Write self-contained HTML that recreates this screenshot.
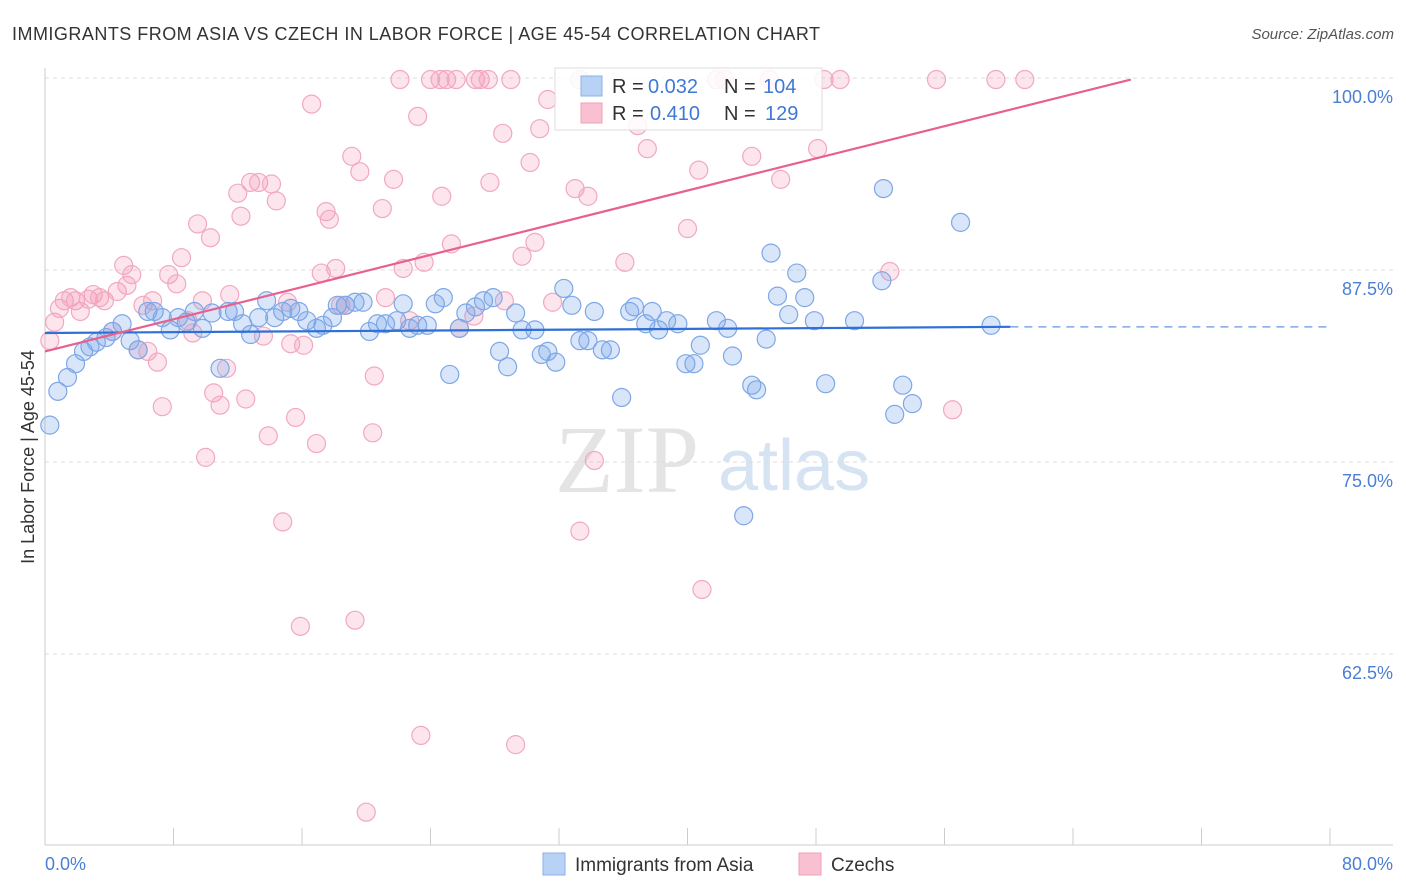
<!DOCTYPE html>
<html><head><meta charset="utf-8"><style>
body{margin:0;background:#fff;font-family:"Liberation Sans",sans-serif;}
#wrap{position:relative;width:1406px;height:892px;overflow:hidden;}
</style></head><body>
<div id="wrap">
<svg id="svg" width="1406" height="892" xmlns="http://www.w3.org/2000/svg">
<text x="12" y="40" font-size="18" fill="#333" textLength="808" lengthAdjust="spacing">IMMIGRANTS FROM ASIA VS CZECH IN LABOR FORCE | AGE 45-54 CORRELATION CHART</text>
<text x="1394" y="39" font-size="15" fill="#555" font-style="italic" text-anchor="end">Source: ZipAtlas.com</text>
<g><text x="555" y="492" font-size="96" font-family="Liberation Serif,serif" fill="#e4e4e4">ZIP</text><text x="718" y="490" font-size="72" fill="#d5e3f3">atlas</text></g>
<g id="grid"></g>
<g id="axes"></g>
<g id="pts"></g>
<g id="trend"></g>
<text transform="translate(34,457) rotate(-90)" font-size="18" fill="#333" text-anchor="middle">In Labor Force | Age 45-54</text>
<g>
<rect x="555" y="68" width="267" height="62" fill="#fff" fill-opacity="0.85" stroke="#ddd"/>
<rect x="581" y="76" width="21" height="20" fill="#b8d2f5" stroke="#8ab0e8"/>
<rect x="581" y="103" width="21" height="20" fill="#f8c0d0" stroke="#f0a0b8"/>
<text y="93" font-size="20"><tspan x="612" fill="#333">R = </tspan><tspan x="648" fill="#3f78d6">0.032</tspan><tspan x="724" fill="#333">N = </tspan><tspan x="763" fill="#3f78d6">104</tspan></text>
<text y="120" font-size="20"><tspan x="612" fill="#333">R = </tspan><tspan x="650" fill="#3f78d6">0.410</tspan><tspan x="724" fill="#333">N = </tspan><tspan x="765" fill="#3f78d6">129</tspan></text>
</g>
<g>
<rect x="543" y="853" width="22" height="22" fill="#b8d2f5" stroke="#8ab0e8"/>
<text x="575" y="871" font-size="19" fill="#333">Immigrants from Asia</text>
<rect x="799" y="853" width="22" height="22" fill="#f8c0d0" stroke="#f0a0b8"/>
<text x="831" y="871" font-size="19" fill="#333">Czechs</text>
</g>
</svg>
</div>
<script>
const yTicks=[100,87.5,75,62.5];
const yTickLabels=["100.0%","87.5%","75.0%","62.5%"];
const xTicks=[0,8,16,24,32,40,48,56,64,72,80];
const asiaX=[0.3,0.8,1.4,1.9,2.4,2.8,3.2,3.8,4.2,4.8,5.3,5.8,6.4,6.8,7.3,7.8,8.3,8.8,9.3,9.8,10.4,10.9,11.4,11.8,12.3,12.8,13.3,13.8,14.3,14.8,15.3,15.8,16.3,16.9,17.3,17.9,18.2,18.7,19.3,19.8,20.2,20.7,21.2,21.9,22.3,22.7,23.2,23.8,24.3,24.8,25.2,25.8,26.2,26.8,27.3,27.9,28.3,28.8,29.3,29.7,30.5,30.9,31.3,31.8,32.3,32.8,33.3,33.8,34.2,34.7,35.2,35.9,36.4,36.7,37.4,37.8,38.2,38.7,39.4,39.9,40.4,40.8,41.8,42.5,42.8,43.5,44.0,44.3,44.9,45.2,45.6,46.3,46.8,47.3,47.9,48.6,50.4,52.1,52.2,52.9,53.4,54.0,57.0,58.9];
const asiaY=[77.4,79.6,80.5,81.4,82.2,82.5,82.8,83.1,83.5,84.0,82.9,82.3,84.8,84.8,84.4,83.6,84.4,84.1,84.8,83.7,84.7,81.1,84.8,84.8,84.0,83.3,84.4,85.5,84.4,84.8,85.0,84.8,84.2,83.7,83.9,84.4,85.2,85.2,85.4,85.4,83.5,84.0,84.0,84.2,85.3,83.7,83.9,83.9,85.3,85.7,80.7,83.7,84.7,85.1,85.5,85.7,82.2,81.2,84.7,83.6,83.6,82.0,82.2,81.5,86.3,85.2,82.9,82.9,84.8,82.3,82.3,79.2,84.8,85.1,84.0,84.8,83.6,84.2,84.0,81.4,81.4,82.6,84.2,83.7,81.9,71.5,80.0,79.7,83.0,88.6,85.8,84.6,87.3,85.7,84.2,80.1,84.2,86.8,92.8,78.1,80.0,78.8,90.6,83.9];
const czX=[0.3,0.6,0.9,1.2,1.6,1.9,2.2,2.7,3.0,3.4,3.7,4.2,4.5,4.9,5.1,5.4,5.8,6.1,6.4,6.7,7.0,7.3,7.7,8.2,8.5,8.9,9.2,9.5,9.8,10.0,10.3,10.5,10.9,11.3,11.5,12.0,12.2,12.5,12.8,13.3,13.6,13.9,14.1,14.4,14.8,15.1,15.3,15.6,15.9,16.1,16.6,16.9,17.2,17.5,17.7,18.1,18.4,18.7,19.1,19.3,19.6,20.0,20.4,20.5,21.0,21.2,21.7,22.1,22.3,22.7,23.2,23.4,23.6,24.0,24.6,24.7,25.0,25.3,25.6,25.8,26.8,26.7,27.1,27.7,27.6,28.5,28.6,29.0,29.3,29.7,30.2,30.5,30.8,31.3,31.6,33.0,33.3,33.8,34.2,36.1,36.9,37.5,40.0,40.7,40.9,41.8,44.0,45.8,48.1,48.5,49.5,52.6,55.5,56.5,59.2,61.0,42.3,45.1,33.3];
const czY=[82.9,84.1,85.0,85.5,85.7,85.5,84.8,85.6,85.9,85.7,85.5,83.5,86.1,87.8,86.5,87.2,82.3,85.2,82.2,85.5,81.5,78.6,87.2,86.6,88.3,84.2,83.4,90.5,85.5,75.3,89.6,79.5,78.7,81.1,85.9,92.5,91.0,79.1,93.2,93.2,83.2,76.7,93.1,92.0,71.1,85.4,82.7,77.9,64.3,82.6,98.3,76.2,87.3,91.3,90.8,87.6,85.2,85.2,94.9,64.7,93.9,52.2,76.9,80.6,91.5,85.7,93.4,99.9,87.6,84.2,97.5,57.2,88.0,99.9,99.9,92.3,99.9,89.2,99.9,83.7,99.9,84.5,99.9,93.2,99.9,96.4,85.5,99.9,56.6,88.4,94.5,89.3,96.7,98.6,85.4,92.8,70.5,92.3,75.1,88.0,96.9,95.4,90.2,94.0,66.7,99.9,94.9,93.4,95.4,99.9,99.9,87.4,99.9,78.4,99.9,99.9,99.9,99.9,99.9];
const asiaTrendX=[0,60.1,80];
const asiaTrendY=[83.4,83.8,83.8];
const czTrendX=[0,67.6];
const czTrendY=[82.2,99.9];

const NS="http://www.w3.org/2000/svg";
const X0=45,X1=1330,Y100=78,PXPER=15.36;
function sx(v){return X0+(X1-X0)*v/80;}
function sy(v){return Y100+(100-v)*PXPER;}
function mk(tag,attrs,parent){const e=document.createElementNS(NS,tag);for(const k in attrs)e.setAttribute(k,attrs[k]);parent.appendChild(e);return e;}
const grid=document.getElementById('grid'),axes=document.getElementById('axes'),pts=document.getElementById('pts'),trend=document.getElementById('trend');
yTicks.forEach((t,i)=>{
  const l=mk('line',{x1:45,x2:1393,y1:sy(t),y2:sy(t),stroke:'#ddd','stroke-dasharray':'4,4'},grid);
  
  
  const tx=mk('text',{x:1393,y:sy(t)+25,'font-size':18,fill:'#4a7fd4','text-anchor':'end'},axes);
  tx.textContent=yTickLabels[i];
  
  
});
const ax=mk('line',{x1:45,x2:45,y1:68,y2:845,stroke:'#ccc'},axes);


const bx=mk('line',{x1:45,x2:1393,y1:845,y2:845,stroke:'#ccc'},axes);


xTicks.forEach(t=>{
  const l=mk('line',{x1:sx(t),x2:sx(t),y1:828,y2:845,stroke:'#ccc'},axes);
  
  
});
const xl=mk('text',{x:45,y:870,'font-size':18,fill:'#4a7fd4'},axes);xl.textContent='0.0%';


const xr=mk('text',{x:1393,y:870,'font-size':18,fill:'#4a7fd4','text-anchor':'end'},axes);xr.textContent='80.0%';


czX.forEach((x,i)=>{
  const c=mk('circle',{cx:sx(x),cy:sy(czY[i]),r:9,fill:'rgba(244,150,180,0.25)',stroke:'#f2a8c0','stroke-width':1.2},pts);
  
  
});
asiaX.forEach((x,i)=>{
  const c=mk('circle',{cx:sx(x),cy:sy(asiaY[i]),r:9,fill:'rgba(120,165,235,0.28)',stroke:'#7ea7e6','stroke-width':1.2},pts);
  
  
});
const a1=mk('line',{x1:sx(asiaTrendX[0]),y1:sy(asiaTrendY[0]),x2:sx(asiaTrendX[1]),y2:sy(asiaTrendY[1]),stroke:'#2f6fd6','stroke-width':2.2},trend);


const a2=mk('line',{x1:sx(asiaTrendX[1]),y1:sy(asiaTrendY[1]),x2:sx(asiaTrendX[2]),y2:sy(asiaTrendY[2]),stroke:'#7ea7e6','stroke-width':1.5,'stroke-dasharray':'8,6'},trend);


const c1=mk('line',{x1:sx(czTrendX[0]),y1:sy(czTrendY[0]),x2:sx(czTrendX[1]),y2:sy(czTrendY[1]),stroke:'#e8608e','stroke-width':2.2},trend);


</script>
</body></html>
